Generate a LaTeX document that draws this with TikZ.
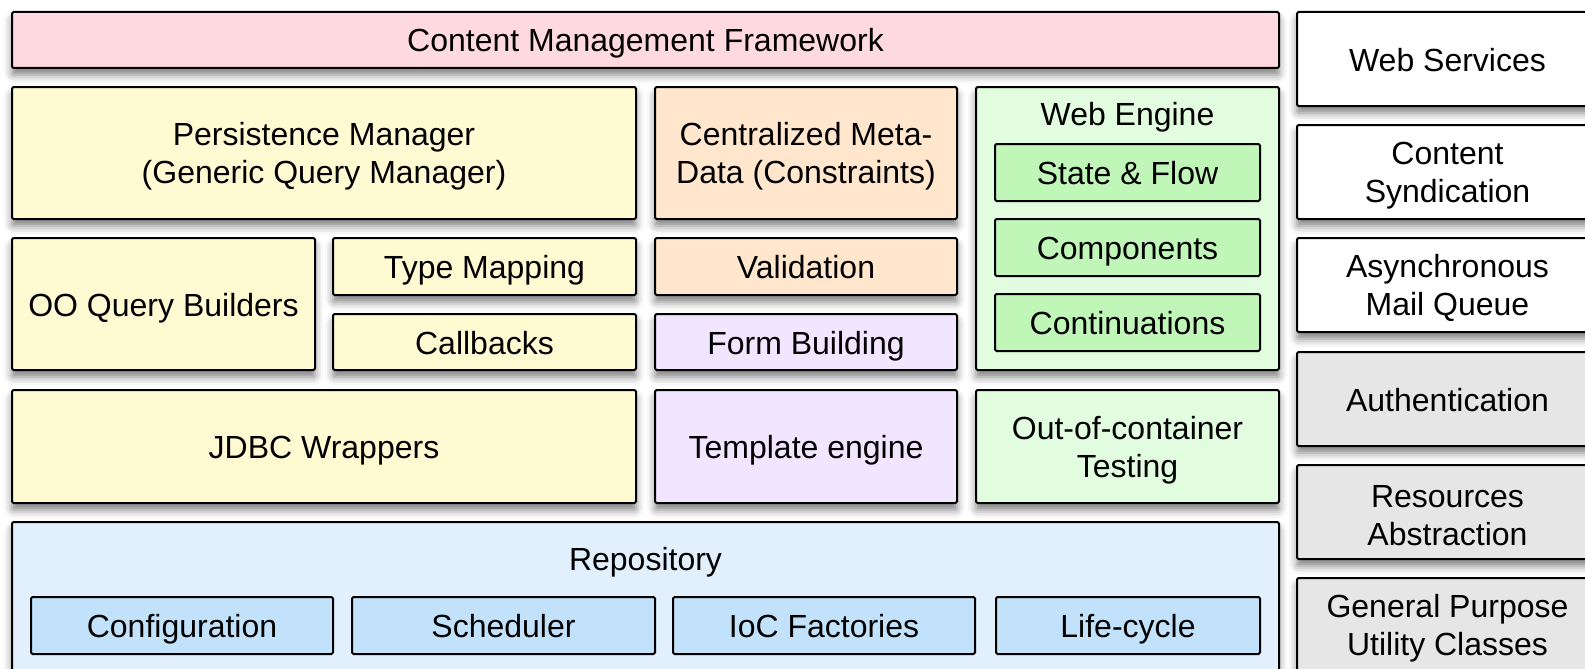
\documentclass[tikz,border=0pt]{standalone}
\usepackage{fontspec}
\setmainfont{Liberation Sans}
\usetikzlibrary{positioning,shadows.blur}
\definecolor{cmfpink}{HTML}{FFD9E0}
\definecolor{persyel}{HTML}{FFFAD2}
\definecolor{metaorg}{HTML}{FFE6CC}
\definecolor{tmplvio}{HTML}{F2E5FF}
\definecolor{webgrn}{HTML}{E2FCDF}
\definecolor{webgrnin}{HTML}{C0F6B8}
\definecolor{repoblu}{HTML}{E2EFFD}
\definecolor{repobluin}{HTML}{C2E2FC}
\definecolor{utilgry}{HTML}{E6E6E6}
% taller first line, so two-line labels sit a little lower
\newcommand\capup{\rule{0pt}{30pt}}
\tikzset{
  layer/.style={draw, line width=2pt, rounded corners=1.5pt, outer sep=0pt, inner sep=0pt,
    align=center, font=\fontsize{32}{38}\selectfont, fill=#1,
    blur shadow={shadow xshift=0pt, shadow yshift=-7pt, shadow blur radius=8pt, shadow opacity=50}},
  layer/.default=white,
  inlayer/.style={draw, line width=2pt, rounded corners=1.5pt, outer sep=0pt, inner sep=0pt,
    align=center, font=\fontsize{32}{38}\selectfont, fill=#1, minimum height=57,
    text height=28pt, text depth=4pt},
  oneline/.style={text height=28pt, text depth=4pt},
  ttl/.style={font=\fontsize{32}{38}\selectfont, inner sep=0pt, text height=28pt, text depth=4pt},
}
\begin{document}
\begin{tikzpicture}[x=1pt,y=-1pt]
\clip (0,0) rectangle (1585,669);

% ===== framework stack =====
\node[layer=cmfpink, oneline, minimum width=1267, minimum height=56, anchor=north west] (cmf) at (12,12)
  {Content Management Framework};

\node[layer=persyel, minimum width=624, minimum height=132, below right=19pt and 0pt of cmf.south west] (pm)
  {\capup Persistence Manager\\(Generic Query Manager)};
\node[layer=metaorg, minimum width=302, minimum height=132, right=19pt of pm] (meta)
  {\capup Centralized Meta-\\Data (Constraints)};
\node[layer=webgrn, minimum width=303, minimum height=283, below right=0pt and 19pt of meta.north east] (web) {};

\node[layer=persyel, oneline, minimum width=303, minimum height=132, below right=19pt and 0pt of pm.south west] (oo)
  {OO Query Builders};
\node[layer=persyel, oneline, minimum width=303, minimum height=57, right=18pt of oo.north east, anchor=north west] (types)
  {Type Mapping};
\node[layer=persyel, oneline, minimum width=303, minimum height=56, below=19pt of types] (callb) {Callbacks};
\node[layer=metaorg, oneline, minimum width=302, minimum height=57, below right=19pt and 0pt of meta.south west] (valid)
  {Validation};
\node[layer=tmplvio, oneline, minimum width=302, minimum height=56, below=19pt of valid] (form) {Form Building};

\node[layer=persyel, oneline, minimum width=624, minimum height=113, below right=20pt and 0pt of oo.south west] (jdbc)
  {JDBC Wrappers};
\node[layer=tmplvio, oneline, minimum width=302, minimum height=113, right=19pt of jdbc] (tmpl) {Template engine};
\node[layer=webgrn, minimum width=303, minimum height=113, right=19pt of tmpl] (ooc)
  {\capup Out-of-container\\Testing};

\node[layer=repoblu, minimum width=1267, minimum height=170, below right=19pt and 0pt of jdbc.south west] (repo) {};

% ===== web engine parts =====
\node[ttl] (webttl) at ([yshift=-26pt]web.north) {Web Engine};
\node[inlayer=webgrnin, minimum width=265, below=57pt of web.north] (state) {State \& Flow};
\node[inlayer=webgrnin, minimum width=265, below=18pt of state] (comp) {Components};
\node[inlayer=webgrnin, minimum width=265, below=18pt of comp] (cont) {Continuations};

% ===== repository parts =====
\node[ttl] (repottl) at ([yshift=-36pt]repo.north) {Repository};
\node[inlayer=repobluin, minimum width=302, below right=75pt and 19pt of repo.north west] (conf) {Configuration};
\node[inlayer=repobluin, minimum width=303, right=19pt of conf] (sched) {Scheduler};
\node[inlayer=repobluin, minimum width=302, right=18pt of sched] (ioc) {IoC Factories};
\node[inlayer=repobluin, minimum width=264, right=21pt of ioc] (life) {Life-cycle};

% ===== side services (run past the right edge) =====
\node[layer, oneline, minimum width=301, minimum height=94, anchor=north west] (ws) at (1297,12) {Web Services};
\node[layer, minimum width=301, minimum height=94, below=19pt of ws] (synd) {\capup Content\\Syndication};
\node[layer, minimum width=301, minimum height=94, below=19pt of synd] (mail) {\capup Asynchronous\\Mail Queue};
\node[layer=utilgry, oneline, minimum width=301, minimum height=94, below=20pt of mail] (auth) {Authentication};
\node[layer=utilgry, minimum width=301, minimum height=94, below=19pt of auth] (res) {\capup Resources\\Abstraction};
\node[layer=utilgry, minimum width=301, minimum height=94, below=19pt of res] (util)
  {\capup General Purpose\\Utility Classes};

\end{tikzpicture}
\end{document}
